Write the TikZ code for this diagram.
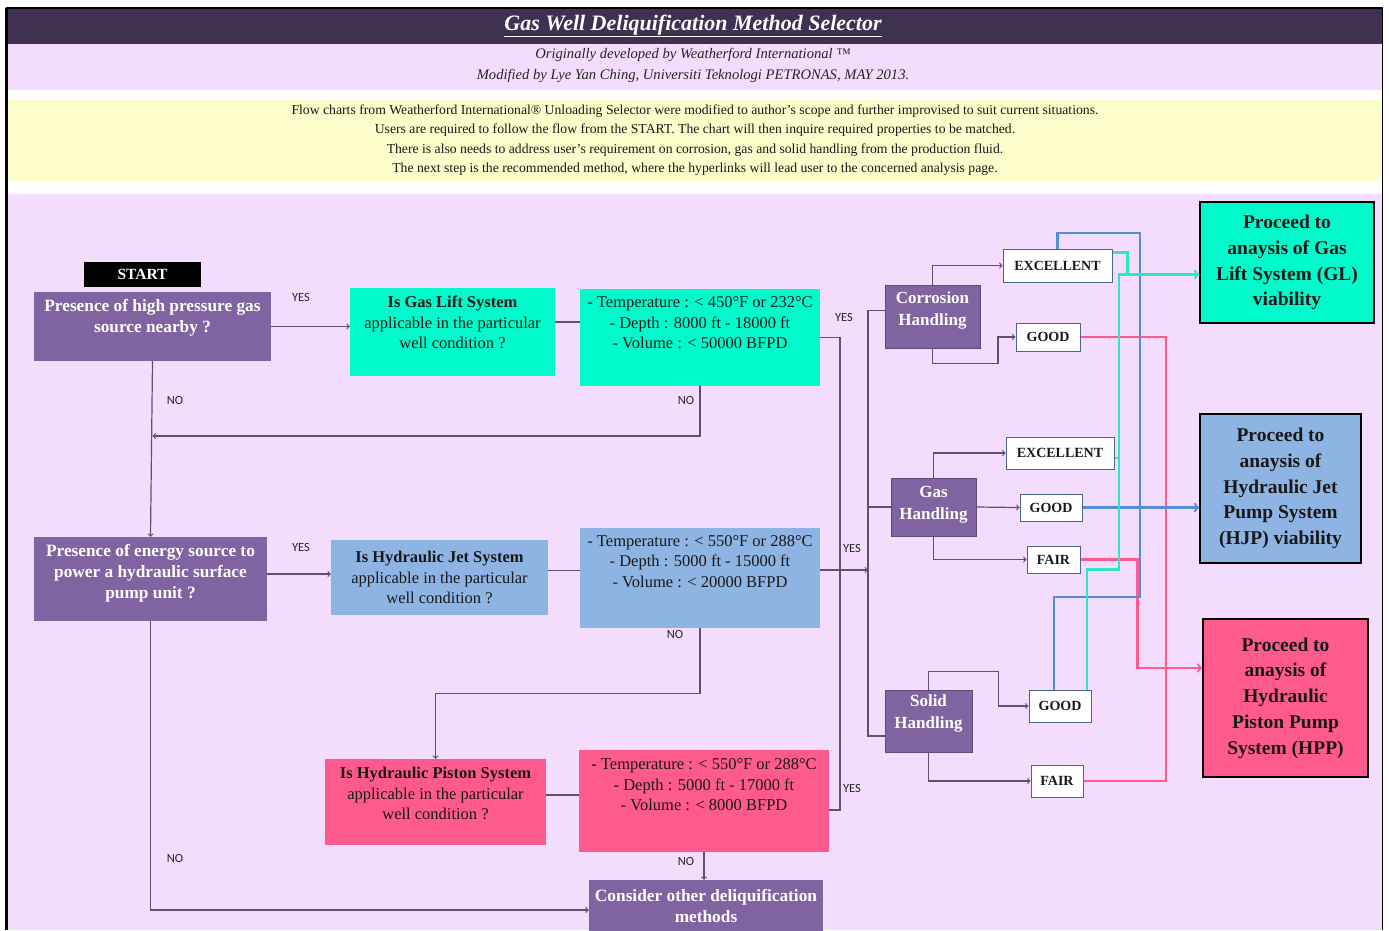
\documentclass[tikz,border=0pt]{standalone}
\usepackage{fontspec}
\setmainfont{Liberation Serif}
\newfontfamily\labelfont{Carlito}
\usetikzlibrary{positioning}

\definecolor{titlebar}{HTML}{3F3151}
\definecolor{bandpink}{HTML}{F4DCFC}
\definecolor{bandyellow}{HTML}{FDFDCB}
\definecolor{qpurple}{HTML}{8064A2}
\definecolor{qborder}{HTML}{5F4A7C}
\definecolor{glgreen}{HTML}{00FACC}
\definecolor{hjblue}{HTML}{8EB4E3}
\definecolor{hppink}{HTML}{FF5A8E}
\definecolor{linegray}{HTML}{5E4E78}
\definecolor{okborder}{HTML}{4A6590}
\definecolor{lineaqua}{HTML}{2EE8C0}
\definecolor{lineblue}{HTML}{558ED5}
\definecolor{linepink}{HTML}{FF5B8F}

\begin{document}
\begin{tikzpicture}[x=1pt, y=-1pt, >=to,
  base/.style={align=center, inner sep=2pt, text=black!90},
  question/.style={base, font=\fontsize{16.5}{20.5}\selectfont},
  crit/.style={base, font=\fontsize{16.5}{20.5}\selectfont},
  choice/.style={base, fill=qpurple, text=white, font=\bfseries\fontsize{17.3}{21}\selectfont},
  handling/.style={choice, draw=qborder, line width=1pt, font=\bfseries\fontsize{17}{22}\selectfont},
  rating/.style={base, fill=white, draw=okborder, line width=1pt, inner sep=0pt, font=\bfseries\fontsize{14}{16}\selectfont},
  method/.style={base, draw=black, line width=1.5pt, font=\bfseries\fontsize{19.5}{25.8}\selectfont},
  answer/.style={inner sep=0pt, text=black!85, font=\labelfont\fontsize{12.5}{14}\selectfont},
  raiseby/.style={text depth=#1},
  link/.style={draw=linegray, line width=1.2pt},
  aqualink/.style={draw=lineaqua, line width=2.2pt},
  bluelink/.style={draw=lineblue, line width=2.2pt},
  pinklink/.style={draw=linepink, line width=2.2pt}]
\useasboundingbox (0,0) rectangle (1389,930);
\fill[white] (0,0) rectangle (1389,930);
\fill[titlebar] (6,8) rectangle (1383,44);
\fill[bandpink] (6,44) rectangle (1383,90);
\fill[bandyellow] (6,100) rectangle (1383,181);
\fill[bandpink] (6,194) rectangle (1383,930);
\draw[black, line width=3pt] (6.5,8) -- (6.5,930);
\draw[black, line width=1.5pt] (1382.5,8) -- (1382.5,930);
\draw[black, line width=1.5pt] (6,8) -- (1383,8);

\node (title) at (693,26) [text=white, font=\bfseries\itshape\fontsize{22}{26}\selectfont] {\underline{Gas Well Deliquification Method Selector}};
\node (credit) at (693,65.5) [align=center, text=black!85, font=\itshape\fontsize{14.6}{21}\selectfont] {Originally developed by Weatherford International ™\\Modified by Lye Yan Ching, Universiti Teknologi PETRONAS, MAY 2013.};
\node (notes) at (695,140) [align=center, text=black!90, font=\fontsize{13.7}{19.3}\selectfont] {Flow charts from Weatherford International® Unloading Selector were modified to author’s scope and further improvised to suit current situations.\\Users are required to follow the flow from the START. The chart will then inquire required properties to be matched.\\There is also needs to address user’s requirement on corrosion, gas and solid handling from the production fluid.\\The next step is the recommended method, where the hyperlinks will lead user to the concerned analysis page.};

\node (start) at (142.5,274.5) [base, fill=black, text=white, minimum width=117, minimum height=25, font=\bfseries\fontsize{15.5}{17}\selectfont] {START};
\node (q1) at (152.5,326.5) [choice, raiseby=21, minimum width=237, minimum height=69] {Presence of high pressure gas\\source nearby ?};
\node (glq) at (452.5,332) [question, fill=glgreen, raiseby=19, minimum width=205, minimum height=88] {{\bfseries Is Gas Lift System}\\applicable in the particular\\well condition ?};
\node (glcrit) at (700,337.5) [crit, fill=glgreen, raiseby=29, minimum width=240, minimum height=97] {- Temperature : < 450°F or 232°C\\- Depth : 8000 ft - 18000 ft\\- Volume : < 50000 BFPD};
\node (q2) at (150.5,579) [choice, raiseby=15, minimum width=233, minimum height=84] {Presence of energy source to\\power a hydraulic surface\\pump unit ?};
\node (hjq) at (439.5,577.5) [question, fill=hjblue, minimum width=217, minimum height=75] {{\bfseries Is Hydraulic Jet System}\\applicable in the particular\\well condition ?};
\node (hjcrit) at (700,578) [crit, fill=hjblue, raiseby=33, minimum width=240, minimum height=100] {- Temperature : < 550°F or 288°C\\- Depth : 5000 ft - 15000 ft\\- Volume : < 20000 BFPD};
\node (hpq) at (435.5,802) [question, fill=hppink, raiseby=17, minimum width=221, minimum height=86] {{\bfseries Is Hydraulic Piston System}\\applicable in the particular\\well condition ?};
\node (hpcrit) at (704,801) [crit, fill=hppink, raiseby=33, minimum width=250, minimum height=102] {- Temperature : < 550°F or 288°C\\- Depth : 5000 ft - 17000 ft\\- Volume : < 8000 BFPD};
\node (other) at (706,912) [choice, raiseby=13, minimum width=234, minimum height=64] {Consider other deliquification\\methods};

\node (corr) at (932.5,316.5) [handling, raiseby=15, minimum width=95, minimum height=63] {Corrosion\\Handling};
\node (gash) at (933.5,507) [handling, raiseby=9, minimum width=85, minimum height=58] {Gas\\Handling};
\node (solid) at (928.5,721) [handling, raiseby=19, minimum width=87, minimum height=62] {Solid\\Handling};

\node (exc1) at (1057.5,265.5) [rating, minimum width=109, minimum height=33] {EXCELLENT};
\node (good1) at (1048,337) [rating, minimum width=64, minimum height=28] {GOOD};
\node (exc2) at (1060,453) [rating, minimum width=108, minimum height=32] {EXCELLENT};
\node (good2) at (1051,507.5) [rating, minimum width=62, minimum height=27] {GOOD};
\node (fair2) at (1053.5,559.5) [rating, minimum width=53, minimum height=27] {FAIR};
\node (good3) at (1060,706) [rating, minimum width=62, minimum height=32] {GOOD};
\node (fair3) at (1057,781) [rating, minimum width=52, minimum height=32] {FAIR};

\node (glbox) at (1287,262.5) [method, fill=glgreen, minimum width=174, minimum height=121] {Proceed to\\anaysis of Gas\\Lift System (GL)\\viability};
\node (hjpbox) at (1280.5,488.5) [method, fill=hjblue, minimum width=161, minimum height=149] {Proceed to\\anaysis of\\Hydraulic Jet\\Pump System\\(HJP) viability};
\node (hppbox) at (1285.5,698) [method, fill=hppink, minimum width=165, minimum height=158] {Proceed to\\anaysis of\\Hydraulic\\Piston Pump\\System (HPP)};

\node (yes1) at (301,297) [answer] {YES};
\node (no1) at (175,400) [answer] {NO};
\node (no2) at (686,400) [answer] {NO};
\node (yes2) at (844,317) [answer] {YES};
\node (yes3) at (301,547) [answer] {YES};
\node (yes4) at (852,548) [answer] {YES};
\node (no3) at (675,634) [answer] {NO};
\node (yes5) at (852,788) [answer] {YES};
\node (no4) at (686,861) [answer] {NO};
\node (no5) at (175,858) [answer] {NO};

\coordinate (glnoturn) at (152.5,436);
\coordinate (yesturn) at (840,810);
\coordinate (hbus) at (868,570);
\coordinate (bluetop) at (1140,233);
\coordinate (bluebot) at (1140,597);
\coordinate (pinkrail) at (1166,560);

\draw[link,->] (q1.east) -- (q1.east -| glq.west);
\draw[link] ([yshift=10]glq.east) -- ([yshift=10]glq.east -| glcrit.west);
\draw[link,->] (q1.south) -- (q2.north);
\draw[link,->] (glcrit.south) |- (glnoturn);
\draw[link] (glcrit.east) -| (yesturn) -- ([yshift=-9]hpcrit.east);
\draw[link,->] ([yshift=5]q2.east) -- ([yshift=5]q2.east -| hjq.west);
\draw[link] ([yshift=7]hjq.east) -- ([yshift=7]hjq.east -| hjcrit.west);
\draw[link,->] ([yshift=8]hjcrit.east) -- ([yshift=8]hjcrit.east -| hbus);
\draw[link,->] (hjcrit.south) -- ++(0,65) -| (hpq.north);
\draw[link] ([yshift=7]hpq.east) -- ([yshift=7]hpq.east -| hpcrit.west);
\draw[link,->] (hpcrit.south) -- (hpcrit.south |- other.north);
\draw[link,->] (q2.south) |- ([yshift=2]other.west);

\draw[link] ([yshift=6]corr.west) -| (hbus) |- ([yshift=-15]solid.west);
\draw[link] (gash.west) -- (gash.west -| hbus);
\draw[link,->] (corr.north) |- (exc1.west);
\draw[link,->] (corr.south) -- ++(0,15) -- ++(65.5,0) |- (good1.west);
\draw[link,->] (gash.north) |- (exc2.west);
\draw[link,->] (gash.east) -- (good2.west);
\draw[link,->] (gash.south) |- (fair2.west);
\draw[link,->] (solid.north) -- ++(0,-18) -- ++(70,0) |- (good3.west);
\draw[link,->] (solid.south) |- (fair3.west);

\draw[pinklink] (good1.east) -| (pinkrail) |- (fair3.east);
\draw[pinklink,->] (fair2.east) -- ++(57,0) |- ([yshift=30]hppbox.west);
\draw[bluelink] (exc1.north) |- (bluetop) -- (bluebot) -| ([xshift=-6]good3.north);
\draw[bluelink,->] (good2.east) -- (good2.east -| hjpbox.west);
\draw[aqualink,->] ([yshift=13]exc1.east) -- ++(15,0) |- ([yshift=-12]glbox.west);
\draw[aqualink,->] ([xshift=27]good3.north) -- ++(0,-120) -- ++(32,0) |- ([yshift=-12]glbox.west);
\draw[aqualink] ([yshift=-5]exc2.east) -- ++(5,0);
\end{tikzpicture}
\end{document}
